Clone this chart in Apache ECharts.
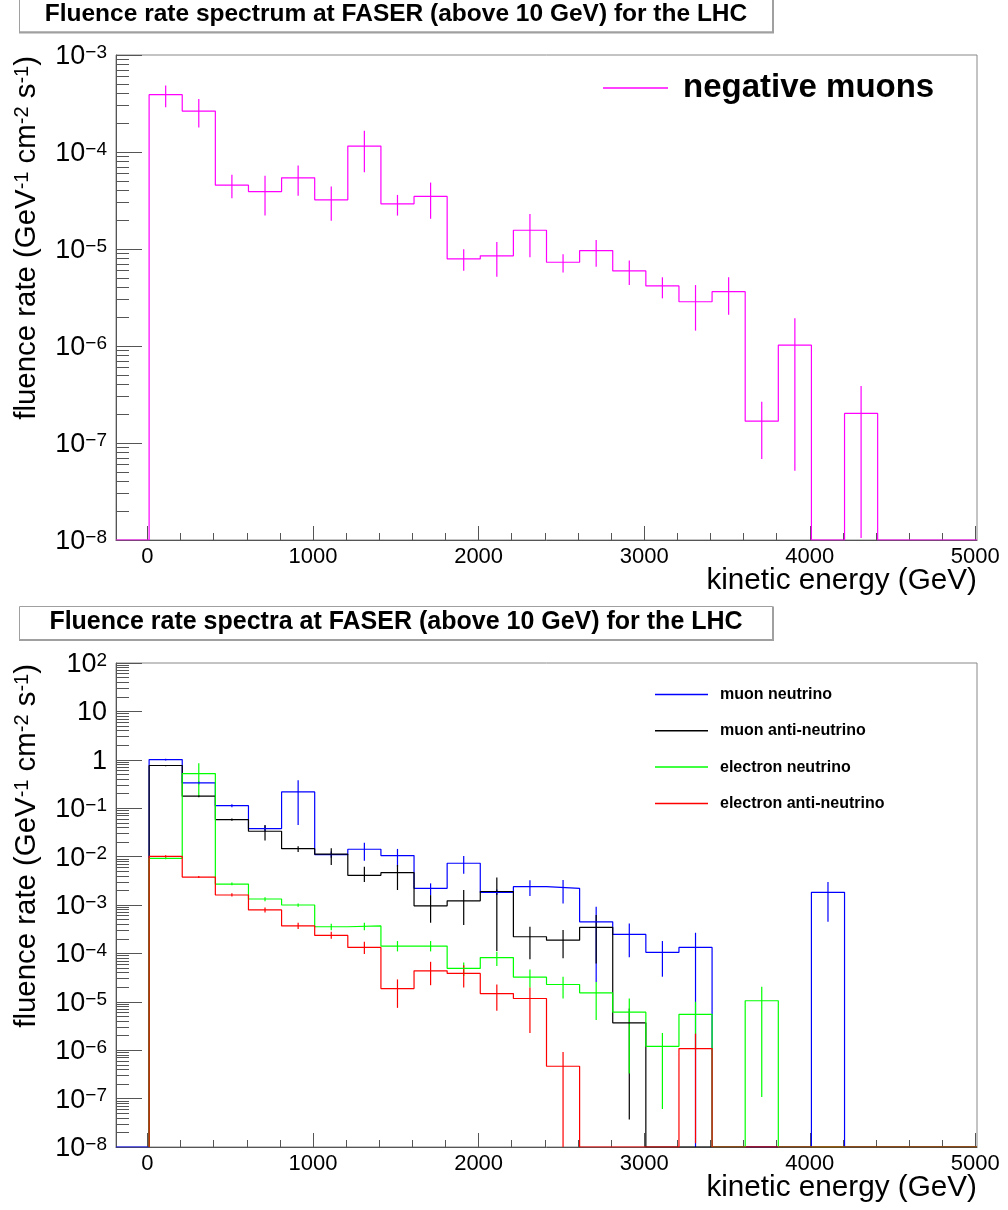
<!DOCTYPE html>
<html><head><meta charset="utf-8">
<script src="https://cdn.jsdelivr.net/npm/echarts@6/dist/echarts.min.js"></script>
<style>html,body{margin:0;padding:0;background:#fff}#c{width:1008px;height:1210px}</style>
</head><body><div id="c"></div>
<script>
// ---------------- data ----------------
// bin edges (GeV); first bin [-190,10] is empty
const binEdges = [-190, 10, 210, 410, 610, 810, 1010, 1210, 1410, 1610, 1810, 2010, 2210, 2410, 2610, 2810, 3010, 3210, 3410, 3610, 3810, 4010, 4210, 4410, 4610, 4810, 5010];
const xTickValues = [0, 1000, 2000, 3000, 4000, 5000];
const xMinorTickValues = [200, 400, 600, 800, 1200, 1400, 1600, 1800, 2200, 2400, 2600, 2800, 3200, 3400, 3600, 3800, 4200, 4400, 4600, 4800];
const yTicksTop = [1e-8, 1e-7, 1e-6, 1e-5, 1e-4, 1e-3];
const yTicksBottom = [1e-8, 1e-7, 1e-6, 1e-5, 1e-4, 1e-3, 1e-2, 1e-1, 1, 10, 100];

// top panel: negative muons
const muMinusVal = [0, 3.9e-4, 2.64e-4, 4.55e-5, 3.91e-5, 5.42e-5, 3.21e-5, 1.15e-4, 2.92e-5, 3.48e-5, 7.9e-6, 8.5e-6, 1.56e-5, 7.3e-6, 9.63e-6, 5.94e-6, 4.16e-6, 2.86e-6, 3.63e-6, 1.68e-7, 1.02e-6, 0, 2.02e-7, 0, 0, 0];
const muMinusLo  = [null, 2.9e-4, 1.79e-4, 3.34e-5, 2.21e-5, 3.53e-5, 1.96e-5, 6.2e-5, 2.21e-5, 2.05e-5, 5.98e-6, 5.19e-6, 8.2e-6, 5.71e-6, 6.58e-6, 4.25e-6, 3.1e-6, 1.44e-6, 2.1e-6, 6.83e-8, 5.17e-8, null, 1.05e-8, null, null, null];
const muMinusHi  = [null, 4.85e-4, 3.52e-4, 5.82e-5, 5.68e-5, 7.26e-5, 4.41e-5, 1.66e-4, 3.61e-5, 4.84e-5, 9.95e-6, 1.18e-5, 2.29e-5, 8.83e-6, 1.24e-5, 7.59e-6, 5.11e-6, 4.25e-6, 5.11e-6, 2.66e-7, 1.93e-6, null, 3.86e-7, null, null, null];

// bottom panel: neutrinos
const numuVal = [0, 1.01, 0.333, 0.113, 0.0379, 0.217, 0.011, 0.0142, 0.0105, 0.00221, 0.00728, 0.00183, 0.00239, 0.00221, 4.5e-4, 2.47e-4, 1.05e-4, 1.33e-4, 0, 0, 0, 1.83e-3, 0, 0, 0, 0];
const numuLo  = [null, 0.97, 0.31, 0.105, 0.033, 0.045, 0.0095, 0.0082, 0.0062, 0.0016, 0.0044, 0.0016, 0.00153, 0.00108, 2.58e-5, 8.3e-5, 3.3e-5, 0, null, null, null, 4.5e-4, null, null, null, null];
const numuHi  = [null, 1.05, 0.36, 0.121, 0.044, 0.379, 0.0127, 0.0194, 0.0144, 0.0028, 0.0103, 0.0021, 0.00325, 0.0033, 9.2e-4, 4.17e-4, 1.8e-4, 2.67e-4, null, null, null, 3.0e-3, null, null, null, null];

const numubarVal = [0, 0.762, 0.177, 0.0582, 0.0334, 0.0146, 0.0112, 0.0041, 0.00465, 9.6e-4, 1.22e-3, 1.9e-3, 2.21e-4, 1.88e-4, 3.45e-4, 3.67e-6, 0, 0, 0, 0, 0, 0, 0, 0, 0, 0];
const numubarLo  = [null, 0.74, 0.168, 0.055, 0.0214, 0.0124, 0.0067, 0.003, 0.00204, 4.3e-4, 3.85e-4, 1.12e-4, 7.6e-5, 7.9e-5, 6.2e-5, 3.7e-8, null, null, null, null, null, null, null, null, null, null];
const numubarHi  = [null, 0.785, 0.186, 0.061, 0.045, 0.0163, 0.0149, 0.0062, 0.0067, 1.6e-3, 2.04e-3, 3.7e-3, 3.55e-4, 3.03e-4, 6.2e-4, 7.3e-6, null, null, null, null, null, null, null, null, null, null];

const nueVal = [0, 0.0092, 0.52, 2.71e-3, 1.33e-3, 1.0e-3, 3.55e-4, 3.7e-4, 1.42e-4, 1.42e-4, 4.9e-5, 8.2e-5, 3.23e-5, 2.28e-5, 1.53e-5, 6.1e-6, 1.2e-6, 5.5e-6, 0, 1.05e-5, 0, 0, 0, 0, 0, 0];
const nueLo  = [null, 0.0088, 0.174, 2.55e-3, 1.2e-3, 9.2e-4, 3.0e-4, 3.0e-4, 1.1e-4, 1.1e-4, 3.4e-5, 5.5e-5, 1.98e-5, 1.17e-5, 4.2e-6, 3.3e-7, 6.1e-8, 1.0e-6, null, 1.08e-7, null, null, null, null, null, null];
const nueHi  = [null, 0.0097, 0.85, 2.9e-3, 1.45e-3, 1.08e-3, 4.1e-4, 4.3e-4, 1.8e-4, 1.8e-4, 6.5e-5, 1.08e-4, 4.66e-5, 3.28e-5, 2.58e-5, 1.17e-5, 2.27e-6, 1.0e-5, null, 2.04e-5, null, null, null, null, null, null];

const nuebarVal = [0, 0.0101, 3.78e-3, 1.61e-3, 7.9e-4, 3.7e-4, 2.35e-4, 1.33e-4, 1.88e-5, 4.36e-5, 3.86e-5, 1.48e-5, 1.17e-5, 4.66e-7, 0, 0, 0, 1.08e-6, 0, 0, 0, 0, 0, 0, 0, 0];
const nuebarLo  = [null, 0.0096, 3.6e-3, 1.5e-3, 7.0e-4, 3.2e-4, 2.0e-4, 9.7e-5, 7.5e-6, 2.2e-5, 1.98e-5, 6.5e-6, 2.27e-6, 0, null, null, null, 1.2e-8, null, null, null, null, null, null, null, null];
const nuebarHi  = [null, 0.0107, 3.95e-3, 1.75e-3, 8.9e-4, 4.3e-4, 2.8e-4, 1.74e-4, 2.9e-5, 6.7e-5, 5.7e-5, 2.28e-5, 1.98e-5, 9.2e-7, null, null, null, 2.2e-6, null, null, null, null, null, null, null, null];

const topTitle = 'Fluence rate spectrum at FASER (above 10 GeV) for the LHC';
const bottomTitle = 'Fluence rate spectra at FASER (above 10 GeV) for the LHC';
const xTitle = 'kinetic energy (GeV)';

// ---------------- helpers ----------------
const FONT = '"Liberation Sans", Arial, Helvetica, sans-serif';
const FLOOR = 1e-8;
const LW = 1.2;

function stepPoints(vals, lead) {
  const pts = [];
  if (!lead) pts.push([binEdges[1], FLOOR]);
  for (let i = lead ? 0 : 1; i < vals.length; i++) pts.push([binEdges[i], vals[i] > 0 ? vals[i] : FLOOR]);
  const last = vals[vals.length - 1];
  pts.push([binEdges[vals.length], last > 0 ? last : FLOOR]);
  return pts;
}
function errPoints(vals, lo, hi) {
  const out = [];
  for (let i = 0; i < vals.length; i++) {
    if (!(vals[i] > 0) || hi[i] == null) continue;
    const c = (binEdges[i] + binEdges[i + 1]) / 2;
    out.push([c, lo[i] > FLOOR ? lo[i] : FLOOR, hi[i]]);
  }
  return out;
}
function minorLog(lo, hi) {
  const out = [];
  for (let e = lo; e < hi; e++) for (let m = 2; m <= 9; m++) out.push(m * Math.pow(10, e));
  return out;
}
function histSeries(name, color, vals, lead, xi, yi) {
  return {
    name: name, type: 'line', step: 'end', xAxisIndex: xi, yAxisIndex: yi,
    data: stepPoints(vals, lead), symbol: 'none', color: color,
    lineStyle: { color: color, width: LW }, animation: false, z: 3
  };
}
function errSeries(color, vals, lo, hi, xi, yi) {
  return {
    type: 'custom', xAxisIndex: xi, yAxisIndex: yi, data: errPoints(vals, lo, hi),
    encode: { x: 0, y: [1, 2] }, animation: false, z: 3, silent: true,
    renderItem: function (params, api) {
      const x = api.value(0);
      const p1 = api.coord([x, api.value(1)]);
      const p2 = api.coord([x, api.value(2)]);
      return { type: 'line', shape: { x1: p1[0], y1: p1[1], x2: p2[0], y2: p2[1] },
               style: { stroke: color, lineWidth: LW } };
    }
  };
}
function logLabel(v) {
  const e = Math.round(Math.log10(v));
  if (e === 0) return '{b|1}';
  if (e === 1) return '{b|10}';
  return '{b|10}{s|' + (e < 0 ? '\u2212' : '') + Math.abs(e) + '}';
}
const yRich = {
  b: { fontSize: 27, fontFamily: FONT, color: '#000', lineHeight: 27, verticalAlign: 'bottom' },
  s: { fontSize: 19, fontFamily: FONT, color: '#000', lineHeight: 19, verticalAlign: 'top', padding: [0, 0, 11, 0] }
};
const axisColor = '#555';

function xMain(g) {
  return { type: 'value', gridIndex: g, min: -190, max: 5010, position: 'bottom',
    axisLine: { show: true, onZero: false, lineStyle: { color: axisColor, width: 1 } },
    axisTick: { show: true, inside: true, length: 14, customValues: xTickValues, lineStyle: { color: axisColor } },
    axisLabel: { show: true, customValues: xTickValues, margin: 6, fontSize: 22, fontFamily: FONT, color: '#000',
      formatter: function (v) { return String(Math.round(v)); }, showMinLabel: true, showMaxLabel: true, hideOverlap: false },
    splitLine: { show: false } };
}
function xMinor(g) {
  return { type: 'value', gridIndex: g, min: -190, max: 5010, position: 'bottom',
    axisLine: { show: false, onZero: false },
    axisTick: { show: true, inside: true, length: 7, customValues: xMinorTickValues, lineStyle: { color: axisColor } },
    axisLabel: { show: false }, splitLine: { show: false } };
}
function yMain(g, min, max, ticks) {
  return { type: 'log', gridIndex: g, min: min, max: max, position: 'left', logBase: 10,
    axisLine: { show: true, onZero: false, lineStyle: { color: axisColor, width: 1 } },
    axisTick: { show: true, inside: true, length: 26, customValues: ticks, lineStyle: { color: axisColor } },
    axisLabel: { show: true, customValues: ticks, margin: 9, formatter: logLabel, rich: yRich, padding: [3, 0, 0, 0],
      showMinLabel: true, showMaxLabel: true, hideOverlap: false },
    splitLine: { show: false } };
}
function yMinor(g, min, max, lo, hi) {
  return { type: 'log', gridIndex: g, min: min, max: max, position: 'left', logBase: 10,
    axisLine: { show: false, onZero: false },
    axisTick: { show: true, inside: true, length: 13, customValues: minorLog(lo, hi), lineStyle: { color: axisColor } },
    axisLabel: { show: false }, splitLine: { show: false } };
}

function titleBox(y0, h, text, ty, fs) {
  return [
    { type: 'rect', shape: { x: 19.5, y: y0, width: 753, height: h }, style: { fill: '#fff', stroke: '#a0a0a0', lineWidth: 1 }, z: 100 },
    { type: 'rect', shape: { x: 19, y: y0 + h - 0.5, width: 755, height: 2 }, style: { fill: '#a0a0a0' }, z: 101 },
    { type: 'rect', shape: { x: 772, y: y0, width: 2, height: h + 1 }, style: { fill: '#a0a0a0' }, z: 101 },
    { type: 'text', x: 396, y: ty, style: { text: text, fontSize: fs, fontWeight: 'bold', fontFamily: FONT, fill: '#000', align: 'center', verticalAlign: 'middle' }, z: 102 }
  ];
}
function yTitle(y) {
  return { type: 'text', x: 27, y: y, rotation: Math.PI / 2,
    style: { text: 'fluence rate (GeV{s|-1} cm{s|-2} s{s|-1})', fontSize: 29.4, fontFamily: FONT, fill: '#000', align: 'right', verticalAlign: 'middle',
      rich: { s: { fontSize: 20, fontFamily: FONT, fill: '#000', verticalAlign: 'top', lineHeight: 20 } } }, z: 100 };
}
function xTitleEl(y) {
  return { type: 'text', x: 977, y: y, style: { text: xTitle, fontSize: 29.7, fontFamily: FONT, fill: '#000', align: 'right', verticalAlign: 'middle' }, z: 100 };
}

const chart = echarts.init(document.getElementById('c'), null, { renderer: 'canvas' });
chart.setOption({
  animation: false,
  backgroundColor: '#fff',
  grid: [
    { left: 116, top: 55, width: 861, height: 485, show: true, borderColor: '#888', borderWidth: 1, backgroundColor: 'transparent', containLabel: false, outerBoundsMode: 'none' },
    { left: 116, top: 663, width: 861, height: 484, show: true, borderColor: '#888', borderWidth: 1, backgroundColor: 'transparent', containLabel: false, outerBoundsMode: 'none' }
  ],
  xAxis: [xMain(0), xMinor(0), xMain(1), xMinor(1)],
  yAxis: [yMain(0, 1e-8, 1e-3, yTicksTop), yMinor(0, 1e-8, 1e-3, -8, -3),
          yMain(1, 1e-8, 100, yTicksBottom), yMinor(1, 1e-8, 100, -8, 2)],
  legend: [
    { data: ['negative muons'], left: 603, top: 70, padding: 0, orient: 'vertical', icon: 'rect', itemWidth: 65, itemHeight: 1.5,
      selectedMode: false, textStyle: { fontSize: 33, fontWeight: 'bold', fontFamily: FONT, color: '#000', lineHeight: 36, padding: [0, 0, 0, 10] } },
    { data: ['muon neutrino', 'muon anti-neutrino', 'electron neutrino', 'electron anti-neutrino'], left: 655, top: 684.5, padding: 0, orient: 'vertical',
      icon: 'rect', itemWidth: 53, itemHeight: 1.5, itemGap: 16.3, selectedMode: false,
      textStyle: { fontSize: 16, fontWeight: 'bold', fontFamily: FONT, color: '#000', lineHeight: 20, padding: [0, 0, 0, 7] } }
  ],
  graphic: { elements: [].concat(
    titleBox(-10, 42, topTitle, 14, 24.5),
    titleBox(606.5, 33, bottomTitle, 622, 25),
    [yTitle(56), yTitle(664), xTitleEl(581), xTitleEl(1188)]
  ) },
  series: [
    histSeries('negative muons', '#ff00ff', muMinusVal, true, 0, 0),
    errSeries('#ff00ff', muMinusVal, muMinusLo, muMinusHi, 0, 0),
    histSeries('muon neutrino', '#0000ff', numuVal, true, 2, 2),
    errSeries('#0000ff', numuVal, numuLo, numuHi, 2, 2),
    histSeries('muon anti-neutrino', '#000000', numubarVal, false, 2, 2),
    errSeries('#000000', numubarVal, numubarLo, numubarHi, 2, 2),
    histSeries('electron neutrino', '#00ff00', nueVal, false, 2, 2),
    errSeries('#00ff00', nueVal, nueLo, nueHi, 2, 2),
    histSeries('electron anti-neutrino', '#ff0000', nuebarVal, false, 2, 2),
    errSeries('#ff0000', nuebarVal, nuebarLo, nuebarHi, 2, 2)
  ]
});
</script></body></html>
